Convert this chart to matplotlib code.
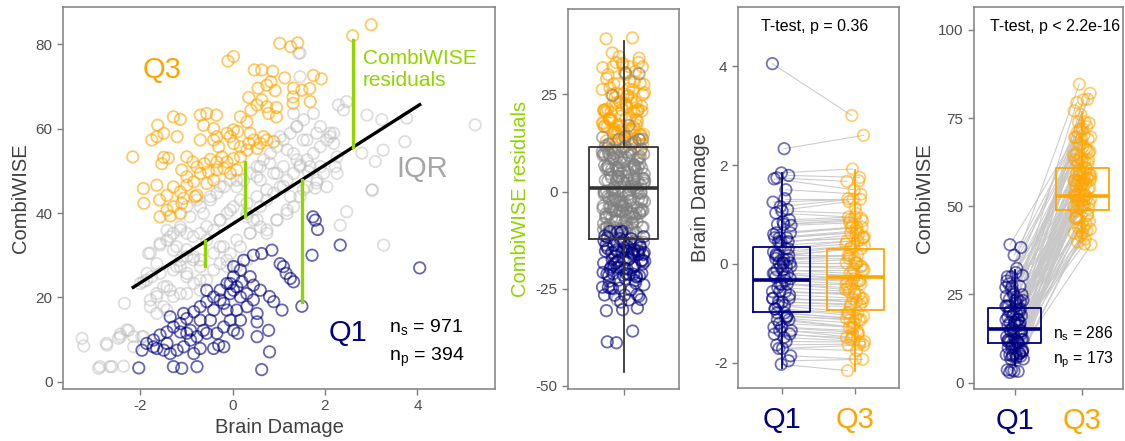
import numpy as np
import matplotlib
matplotlib.use("Agg")
import matplotlib.pyplot as plt

plt.rcParams['font.family'] = ['Liberation Sans', 'DejaVu Sans']
plt.rcParams['axes.unicode_minus'] = False

# ---------------- data ----------------
q3_x = [3.0, 2.6, 1.02, 1.26, 1.41, -0.10, 0.02, 0.47, 0.63, 0.87, 1.13, 1.32, 1.75, 1.92,
        0.55, 0.74, 0.83, 0.92, 1.50, 1.67, 1.68, 0.35, 0.53, 0.63, 0.95, 1.31, 1.31,
        0.40, 0.17, 0.31, 0.74, 0.95, -2.16, -1.62, -1.49, -1.64, -1.75, -1.28, -1.13, -1.20,
        -1.49, -1.39, -1.53, -1.93, -1.92, -1.64, -1.58, -1.42, -1.57, -1.35, -1.13,
        -0.70, -0.56, -0.35, -0.63, -0.41, -0.70, 0.02, 0.11, -0.05, -0.30, -0.41,
        -0.99, -0.86, -0.77, -0.61, -0.48, -0.34, -0.23, -0.12, 0.02, 0.17, 0.31, 0.35, 0.46,
        0.60, 0.74, 0.53, -1.10, -0.99, -0.84, -0.70, -0.52, -0.34, -0.19, -0.05, 0.09,
        -0.99, -1.13, -1.28, -1.06, -0.77, -0.56, -0.41, -1.28, -1.10, -1.42, -0.81,
        -0.12, 0.02, 0.17, -0.34, 0.78, 0.38, 0.67, 0.89]
q3_y = [84.6, 82.0, 80.2, 79.4, 80.3, 76.0, 77.1, 73.9, 73.9, 73.6, 72.0, 69.6, 72.6, 71.8,
        69.6, 70.3, 71.1, 69.0, 69.1, 69.5, 66.4, 67.4, 65.6, 66.8, 65.0, 66.0, 67.5,
        64.4, 62.8, 61.6, 65.2, 62.8, 53.3, 60.8, 58.9, 58.1, 57.3, 62.8, 62.2, 58.1,
        53.2, 53.0, 51.7, 45.8, 42.3, 46.6, 43.1, 44.2, 39.1, 39.3, 39.9,
        63.2, 63.6, 63.2, 60.8, 60.0, 57.3, 59.7, 59.3, 58.1, 55.7, 57.3,
        53.3, 52.1, 50.9, 51.7, 52.7, 52.1, 53.3, 52.1, 52.9, 53.3, 54.9, 56.5, 57.3,
        56.5, 57.3, 55.3, 50.2, 48.6, 47.4, 49.4, 49.8, 50.2, 50.6, 49.4, 50.2,
        46.6, 45.0, 46.2, 43.5, 44.2, 47.0, 47.8, 41.5, 42.3, 40.7, 43.9,
        58.9, 56.5, 55.7, 58.1, 63.6, 58.9, 58.1, 56.9]

q1_x = [4.05, 2.33, 1.74, 1.79, 1.84, 1.72, 1.50, 0.45, 0.63, 0.85, 1.03, 1.10, 1.16, 1.25, 1.32,
        0.80, 0.89, 1.07, 0.53, 0.53, 0.53, 0.78, 0.80, 0.63, 0.31, 0.45, 0.60, 0.31,
        0.17, 0.02, -0.12, -0.27, -0.41, -0.56, -0.70, -0.84, -0.99, -1.13, -1.28, -1.42, -1.57,
        -1.71, -1.86, 0.02, 0.17, 0.09, -0.05, -0.19, -0.34, -0.48, -0.63, -0.77, -0.91, -1.06,
        -1.20, -1.35, -1.49, -1.64, -1.96, -2.03, -1.28, -1.10, -0.77, -0.30,
        0.02, 0.11, -0.19, -0.41, -0.70, -0.99, -1.13, -0.70, -0.41, -0.19, -0.05,
        0.02, -0.05, 0.09, 0.20, 0.45, 0.38, 0.24, -0.56, -0.84, -1.42, -1.71, -0.91, -1.06, -1.35,
        -0.56, -0.27, -0.12, 0.17]
q1_y = [27.0, 32.4, 39.1, 38.3, 36.1, 30.0, 17.9, 30.0, 30.4, 31.2, 28.0, 27.3, 25.7, 24.5, 23.7,
        20.2, 19.0, 17.0, 16.2, 14.2, 10.7, 12.2, 7.1, 2.9, 20.9, 19.4, 21.7, 17.8,
        26.5, 24.9, 23.3, 21.7, 20.1, 19.0, 17.8, 16.6, 15.0, 13.8, 13.0, 11.8, 11.1,
        9.9, 9.1, 21.7, 20.1, 17.0, 14.6, 13.0, 11.5, 14.6, 12.2, 10.7, 9.9, 8.3,
        7.5, 6.7, 7.5, 7.9, 7.5, 3.3, 3.6, 3.2, 3.6, 8.7,
        12.2, 11.5, 8.3, 7.9, 7.9, 11.5, 11.8, 14.6, 17.0, 18.6, 20.9,
        27.3, 23.3, 22.5, 23.7, 22.9, 24.9, 28.8, 11.5, 6.7, 9.1, 8.3, 12.2, 16.2, 15.4,
        21.7, 19.4, 17.0, 14.6]

iqr_x = [5.25, 3.77, 3.73, 2.91, 3.23, 3.26, 3.09, 3.02, 2.80, 2.47, 2.29, 2.22, 2.11, 1.43,
         1.79, 1.64, 1.46,
         -3.26, -3.22, -2.90, -2.65, -2.36, -2.73, -2.47, -2.34, -2.43, -2.25, -2.14, -1.96,
         -1.85, -1.93, -1.78, -1.64, -1.49, -1.64, -1.82, -1.57, -1.42, -1.28, -1.13, -0.99,
         -0.84, -0.70, -0.56, -0.41, -0.27, -1.28, -1.35, -1.13, -1.42, -0.99, -0.84, -0.70,
         -1.42, -1.13, -0.99, -0.77, -0.63, -0.48, -0.34, -0.19, -0.05, 0.09, 0.24, 0.38,
         0.53, 0.67, 0.82, 0.96, 1.10, 1.25, 1.39, 1.54, 1.32, 1.46, 1.46,
         -0.70, -0.56, -0.41, -0.27, -0.12, 0.02, 0.17, 0.31, 0.45, 0.60, 0.74, 0.89, 1.03,
         1.18, 1.32, 1.46, 1.61, 1.75, 1.90, 2.04, 2.19,
         -0.27, -0.05, 0.17, 0.38, 0.60, 0.74, 0.96, 1.18, 1.32, 1.46, 1.61, 1.83, 2.04, 2.26,
         2.47, 2.33, 3.27, 3.02, 0.09, 0.31, -0.12, -0.99, -1.28, -1.64, -1.75, -2.00,
         1.75, 1.90, 2.11, 2.19, 2.40, 2.26, 1.90, 1.61, 1.32, 1.10, 0.89, 0.60,
         1.03, 0.81, 0.60, 0.96, 0.53, 0.09, -0.27, -0.48, -0.70, -0.92, -1.13, -1.21,
         -0.85, -0.56, -0.27, -0.05, 0.31, 0.53, 0.74, 1.10, 1.25, 1.53, 1.82, 1.97,
         1.68, 1.39, 1.18, 1.53, 1.82, 1.39, 0.53, 0.74, 0.96, 1.18, 0.38, 0.09,
         -0.20, -0.41, -0.70, -0.99, -1.13, -0.12, 0.31,
         -1.78, -1.57, -1.35, -0.99, -0.85, -1.21, -1.57, -1.86, -1.42, -1.64, -1.28,
         -1.78, -1.49, -2.29, -2.43, -1.93, -2.14, -2.72, -2.87, -2.61, -0.99, -0.70]
iqr_y = [60.9, 62.5, 56.9, 63.2, 62.1, 54.9, 52.2, 45.5, 54.2, 66.4, 65.6, 51.0, 58.1, 77.9,
         45.9, 49.8, 51.4,
         10.3, 8.5, 3.2, 3.6, 3.7, 9.1, 10.3, 18.6, 11.3, 12.2, 10.7, 10.7,
         25.7, 23.7, 19.4, 20.9, 22.5, 16.2, 30.4, 32.4, 33.6, 31.2, 28.8, 25.7,
         29.6, 27.3, 24.1, 26.5, 28.0, 26.5, 21.7, 20.9, 17.0, 20.9, 23.3, 21.7,
         35.9, 36.7, 41.5, 43.1, 39.9, 43.1, 44.7, 46.2, 47.8, 46.2, 47.8, 49.4,
         51.0, 52.6, 54.1, 55.7, 57.3, 58.9, 60.5, 62.1, 63.6, 72.3, 77.9,
         35.2, 33.6, 35.9, 38.3, 39.9, 41.5, 43.1, 39.9, 38.3, 41.5, 43.1, 44.7, 46.2,
         47.8, 49.4, 51.0, 52.6, 54.1, 55.7, 57.3, 58.9,
         32.0, 30.4, 32.0, 35.2, 36.7, 35.2, 38.3, 39.9, 41.5, 43.9, 46.2, 47.8, 46.2, 49.4,
         40.3, 37.1, 32.4, 45.4, 27.3, 28.8, 28.8, 35.2, 35.2, 28.0, 24.9, 23.3,
         63.6, 60.5, 58.9, 56.5, 64.4, 53.3, 51.0, 57.3, 54.1, 51.0, 49.4, 47.8,
         58.1, 51.8, 51.0, 49.4, 48.6, 47.8, 46.3, 43.9, 41.5, 39.1, 36.0, 32.0,
         34.4, 36.8, 38.4, 40.7, 42.3, 43.9, 45.5, 46.3, 43.9, 45.5, 47.1, 49.4,
         51.0, 52.6, 55.0, 57.3, 58.9, 60.5, 38.4, 36.0, 38.4, 40.7, 35.2, 33.6,
         32.0, 30.5, 28.9, 29.7, 27.3, 27.3, 39.1,
         30.5, 32.8, 34.4, 31.3, 28.9, 27.3, 25.7, 24.1, 22.6, 20.2, 20.2,
         17.8, 17.8, 12.3, 10.7, 10.7, 8.3, 8.7, 3.6, 3.6, 24.9, 24.1]

fit_intercept = 37.4
fit_slope = 6.98
fit_range = [-2.15, 4.05]
seg_x = [-0.59, 0.27, 1.50, 2.60]
seg_y = [27.5, 52.0, 19.0, 81.1]

resid_box = dict(med=1.0, q1=-12.2, q3=11.5, whislo=-46.5, whishi=38.7)
bd_box = [dict(med=-0.32, q1=-0.965, q3=0.35, whislo=-2.11, whishi=1.84),
          dict(med=-0.26, q1=-0.93, q3=0.30, whislo=-2.17, whishi=1.89)]
cw_box = [dict(med=15.1, q1=11.3, q3=21.1, whislo=5.0, whishi=31.9),
          dict(med=53.0, q1=48.9, q3=60.8, whislo=40.4, whishi=76.8)]

group_labels = ['Q1', 'Q3']

# ---------------- style ----------------
NAVY = '#000080'
ORANGE = '#FFA500'
LGRAY = '#BEBEBE'
DGRAY = '#7F7F7F'
GREEN = '#90D400'
TICKC = '#4D4D4D'
LABC = '#404040'
SPINEC = '#7F7F7F'
MS = 68
LW = 1.3

fig = plt.figure(figsize=(11.25, 4.41), dpi=100)
W, H = 1125, 441
def axpos(l, r, t, b):
    return [l / W, (H - b) / H, (r - l) / W, (b - t) / H]

ax1 = fig.add_axes(axpos(63, 495, 7.5, 389))
ax2 = fig.add_axes(axpos(568, 679, 9.3, 389))
ax3 = fig.add_axes(axpos(738, 899, 7.3, 388))
ax4 = fig.add_axes(axpos(974, 1123, 7.3, 389))

def style(ax):
    for s in ax.spines.values():
        s.set_color(SPINEC)
        s.set_linewidth(1.1)
    ax.tick_params(colors=SPINEC, labelcolor=TICKC, labelsize=11, length=4, width=1)

for a in (ax1, ax2, ax3, ax4):
    style(a)

def circ(ax, x, y, color, alpha=0.6, z=2):
    ax.scatter(x, y, s=MS, facecolors='none', edgecolors=color, linewidths=LW,
               alpha=alpha, zorder=z)

# ---------------- panel 1 ----------------
circ(ax1, iqr_x, iqr_y, LGRAY, alpha=0.5)
circ(ax1, q3_x, q3_y, ORANGE, alpha=0.6)
circ(ax1, q1_x, q1_y, NAVY, alpha=0.6)
fx = np.array(fit_range)
ax1.plot(fx, fit_intercept + fit_slope * fx, color='black', lw=2.4, zorder=4)
for sx, sy in zip(seg_x, seg_y):
    ax1.plot([sx, sx], [sy, fit_intercept + fit_slope * sx], color=GREEN, lw=2.4, zorder=5)
ax1.set_xlim(-3.67, 5.68)
ax1.set_ylim(-1.7, 88.7)
ax1.set_xticks([-2, 0, 2, 4])
ax1.set_yticks([0, 20, 40, 60, 80])
ax1.set_xlabel('Brain Damage', fontsize=14.5, color=LABC, labelpad=3)
ax1.set_ylabel('CombiWISE', fontsize=14.5, color=LABC, labelpad=4)
ax1.text(-1.53, 73.9, 'Q3', color=ORANGE, fontsize=21, ha='center', va='center')
ax1.text(2.49, 11.5, 'Q1', color=NAVY, fontsize=21, ha='center', va='center')
ax1.text(4.11, 50.4, 'IQR', color='#A6A6A6', fontsize=21, ha='center', va='center')
ax1.text(2.82, 74.1, 'CombiWISE\nresiduals', color=GREEN, fontsize=15, ha='left',
         va='center', linespacing=1.2)
ax1.text(3.39, 13.0, r'$\mathregular{n_s}$ = 971', fontsize=14, ha='left', va='center')
ax1.text(3.39, 5.9, r'$\mathregular{n_p}$ = 394', fontsize=14, ha='left', va='center')

# ---------------- panel 2 ----------------
all_x = np.array(q3_x + iqr_x + q1_x)
all_y = np.array(q3_y + iqr_y + q1_y)
resid = all_y - (fit_intercept + fit_slope * all_x)
n3, ni, n1 = len(q3_x), len(iqr_x), len(q1_x)
cols = [ORANGE] * n3 + [DGRAY] * ni + [NAVY] * n1
golden = 0.6180339887
jit2 = np.array([((i * golden) % 1.0 - 0.5) * 0.46 for i in range(len(resid))])
ax2.scatter(1 + jit2, resid, s=MS, facecolors='none', edgecolors=cols, linewidths=LW,
            alpha=0.6, zorder=2)
ax2.bxp([resid_box], positions=[1], widths=0.75, showfliers=False, showcaps=False,
        patch_artist=False,
        boxprops=dict(color='#333333', lw=1.3),
        whiskerprops=dict(color='#333333', lw=1.3),
        medianprops=dict(color='#333333', lw=2.6), zorder=4)
ax2.set_xlim(0.4, 1.6)
ax2.set_ylim(-50.8, 46.9)
ax2.set_yticks([-50, -25, 0, 25])
ax2.set_xticks([1])
ax2.set_xticklabels([''])
ax2.set_ylabel('CombiWISE residuals', fontsize=14.5, color=GREEN, labelpad=4)

# ---------------- panels 3 and 4 (paired Q1 / Q3) ----------------
o1 = np.argsort(q1_x)
o3 = np.argsort(q3_x)
pair3 = o3[np.round(np.linspace(0, n3 - 1, n1)).astype(int)]
jit1 = np.array([((i * golden) % 1.0 - 0.5) * 0.26 for i in range(n1)])
jit3 = np.array([(((i + 7) * golden) % 1.0 - 0.5) * 0.26 for i in range(n3)])
q1x, q1y, q3x, q3y = map(np.array, (q1_x, q1_y, q3_x, q3_y))

for ax, v1, v3, boxes in ((ax3, q1x, q3x, bd_box), (ax4, q1y, q3y, cw_box)):
    for i, k in zip(o1, pair3):
        ax.plot([1 + jit1[i], 2 + jit3[k]], [v1[i], v3[k]], color='#C8C8C8', lw=0.8,
                alpha=0.9, zorder=1)
    circ(ax, 1 + jit1, v1, NAVY, alpha=0.55)
    circ(ax, 2 + jit3, v3, ORANGE, alpha=0.55)
    for pos, st, c in zip([1, 2], boxes, [NAVY, ORANGE]):
        ax.bxp([st], positions=[pos], widths=0.78, showfliers=False, showcaps=False,
               patch_artist=False,
               boxprops=dict(color=c, lw=1.3),
               whiskerprops=dict(color=c, lw=1.3),
               medianprops=dict(color=c, lw=2.6), zorder=4)
    ax.set_xlim(0.4, 2.6)
    ax.set_xticks([1, 2])
    ax.set_xticklabels(group_labels)
    ax.tick_params(axis='x', labelsize=21, pad=9)
    for lab, c in zip(ax.get_xticklabels(), [NAVY, ORANGE]):
        lab.set_color(c)

ax3.set_ylim(-2.51, 5.19)
ax3.set_yticks([-2, 0, 2, 4])
ax3.set_ylabel('Brain Damage', fontsize=14.5, color=LABC, labelpad=3)
ax3.text(1.45, 4.8, 'T-test, p = 0.36', fontsize=11.5, ha='center', va='center')

ax4.set_ylim(-1.8, 106.4)
ax4.set_yticks([0, 25, 50, 75, 100])
ax4.set_ylabel('CombiWISE', fontsize=14.5, color=LABC, labelpad=3)
ax4.text(1.59, 100.9, 'T-test, p < 2.2e-16', fontsize=11.5, ha='center', va='center')
ax4.text(1.566, 14.0, r'$\mathregular{n_s}$ = 286', fontsize=11.3, ha='left', va='center')
ax4.text(1.566, 6.4, r'$\mathregular{n_p}$ = 173', fontsize=11.3, ha='left', va='center')

fig.savefig('out.png', dpi=100)
